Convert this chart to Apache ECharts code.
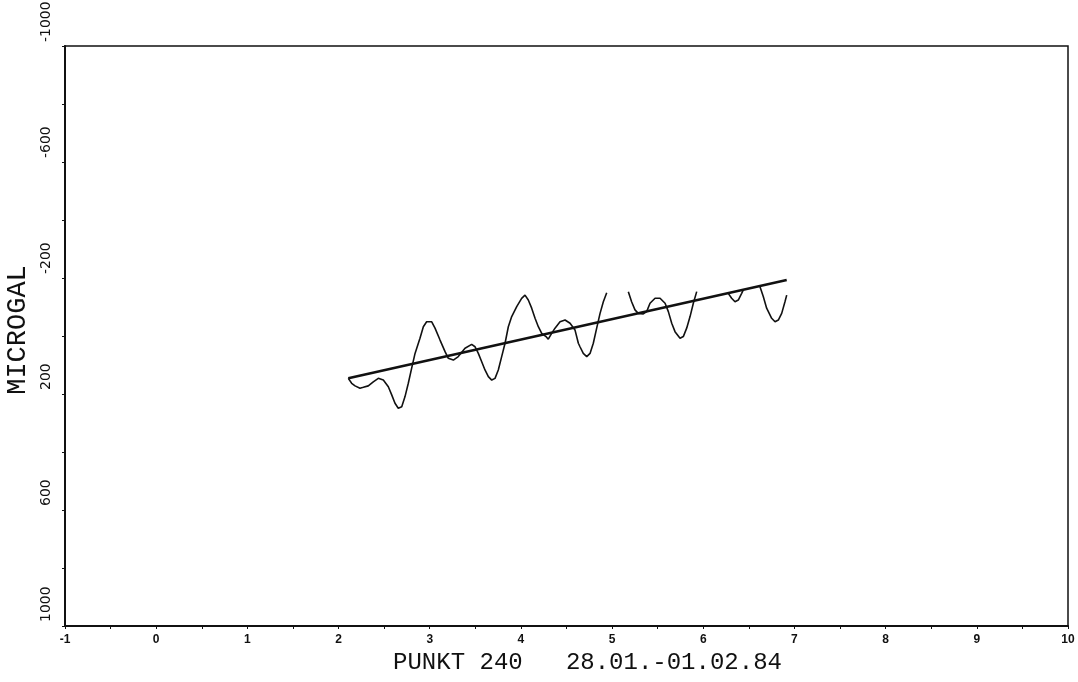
<!DOCTYPE html>
<html>
<head>
<meta charset="utf-8">
<script src="https://cdn.jsdelivr.net/npm/echarts@6/dist/echarts.min.js"></script>
<style>
  html, body { margin: 0; background: #fff; }
  #grafico { width: 1078px; height: 682px; }
</style>
</head>
<body>
<div id="grafico"></div>
<script>
// registrierte Kurve (Tage, Mikrogal) - null = Luecke
var curveX = [2.107, 2.144, 2.181, 2.235, 2.272, 2.326, 2.381, 2.436, 2.491, 2.546, 2.583, 2.619, 2.655, 2.693, 2.729, 2.765, 2.802, 2.839, 2.893, 2.930, 2.966, 3.022, 3.058, 3.113, 3.168, 3.204, 3.259, 3.313,
  3.332, 3.387, 3.460, 3.497, 3.533, 3.570, 3.606, 3.643, 3.680, 3.716, 3.752, 3.789, 3.826, 3.862, 3.899, 3.954, 4.008, 4.045, 4.081, 4.118, 4.155, 4.191, 4.228, 4.275, 4.300, 4.337, 4.374, 4.429, 4.484, 4.539, 4.593, 4.630,
  4.648, 4.684, 4.722, 4.758, 4.794, 4.831, 4.868, 4.904, 4.941, 5.06,
  5.178, 5.214, 5.251, 5.287, 5.342, 5.379, 5.416, 5.471, 5.526, 5.581, 5.617, 5.654, 5.690, 5.745, 5.781, 5.818, 5.855, 5.891, 5.928, 6.10,
  6.274, 6.311, 6.348, 6.384, 6.421, 6.439, 6.53,
  6.622, 6.658, 6.695, 6.750, 6.787, 6.823, 6.860, 6.896, 6.915];
var curveY = [146, 163, 172, 180, 177, 172, 158, 146, 152, 175, 203, 232, 249, 244, 209, 163, 111, 60, 8, -32, -49, -49, -27, 14, 54, 77, 83, 71,
  65, 42, 29, 37, 60, 89, 117, 140, 152, 146, 117, 71, 25, -32, -67, -101, -130, -141, -124, -96, -61, -32, -9, 2, 11, -9, -27, -49, -55, -44, -21, 25,
  37, 60, 71, 60, 25, -27, -78, -118, -149, null,
  -153, -118, -90, -78, -76, -84, -113, -130, -130, -113, -84, -44, -15, 8, 2, -27, -67, -113, -153, null,
  -147, -130, -118, -124, -147, -159, null,
  -170, -136, -96, -61, -49, -55, -78, -118, -141];

// Ausgleichsgerade
var trendX = [2.107, 6.915];
var trendY = [146, -193];

var xName = 'PUNKT 240   28.01.-01.02.84';
var yName = 'MICROGAL';

var curve = curveX.map(function (x, i) { return [x, curveY[i]]; });
var trend = trendX.map(function (x, i) { return [x, trendY[i]]; });

echarts.init(document.querySelector('#grafico')).setOption({
  backgroundColor: '#fff',
  animation: false,
  grid: {
    left: 65, right: 10, top: 46, bottom: 56,
    outerBoundsMode: 'none',
    containLabel: false,
    show: true, borderColor: '#111', borderWidth: 1.5
  },
  xAxis: {
    type: 'value',
    min: -1, max: 10, interval: 1,
    name: xName,
    nameLocation: 'middle',
    nameGap: 20,
    nameTextStyle: { fontFamily: 'Liberation Mono', fontSize: 24, color: '#111', padding: [0, 0, 0, 42] },
    axisLine: { onZero: false, lineStyle: { color: '#111', width: 2 } },
    axisTick: { show: true, length: 3, lineStyle: { color: '#111' } },
    minorTick: { show: true, splitNumber: 2, length: 3, lineStyle: { color: '#111' } },
    splitLine: { show: false },
    axisLabel: { margin: 8, fontFamily: 'Liberation Sans', fontWeight: 'bold', fontSize: 12, color: '#111' }
  },
  yAxis: {
    type: 'value',
    inverse: true,
    min: -1000, max: 1000, interval: 200,
    name: yName,
    nameLocation: 'middle',
    nameRotate: 90,
    nameGap: 20,
    nameTextStyle: { fontFamily: 'Liberation Mono', fontSize: 27, color: '#111', padding: [0, 0, 0, 12] },
    axisLine: { onZero: false, lineStyle: { color: '#111', width: 2 } },
    axisTick: { show: true, length: 3, lineStyle: { color: '#111' } },
    splitLine: { show: false },
    axisLabel: {
      rotate: 90,
      align: 'left',
      margin: 12,
      padding: [0, 0, 0, 4],
      fontFamily: 'DejaVu Sans',
      fontSize: 14,
      color: '#111',
      formatter: function (v) { return (v + 1000) % 400 === 0 ? String(v) : ''; }
    }
  },
  series: [
    {
      name: 'Kurve',
      type: 'line',
      data: curve,
      showSymbol: false,
      connectNulls: false,
      lineStyle: { color: '#111', width: 1.6 }
    },
    {
      name: 'Trend',
      type: 'line',
      data: trend,
      showSymbol: false,
      lineStyle: { color: '#111', width: 2.6 }
    }
  ]
});
</script>
</body>
</html>
